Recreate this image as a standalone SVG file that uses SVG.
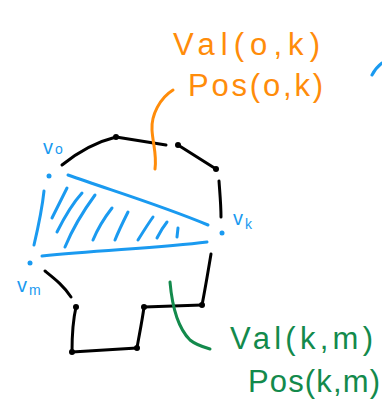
<svg xmlns="http://www.w3.org/2000/svg" width="382" height="406" viewBox="0 0 382 406">
<style>
.k{fill:none;stroke:#000;stroke-width:3;stroke-linecap:round;stroke-linejoin:round}
.b{fill:none;stroke:#1a9af0;stroke-width:3;stroke-linecap:round;stroke-linejoin:round}
.o{fill:none;stroke:#ff8c0a;stroke-width:3;stroke-linecap:round}
.g{fill:none;stroke:#138a4c;stroke-width:3;stroke-linecap:round}
.kd{fill:#000}
.bd{fill:#1a9af0}
.lbl{font-family:"Liberation Sans",Arial,sans-serif;font-size:20px;fill:#1a9af0}
.sub{font-size:14px}
.ot{font-family:"Liberation Sans",Arial,sans-serif;font-size:31px;fill:#ff8c0a}
.gt{font-family:"Liberation Sans",Arial,sans-serif;font-size:31px;fill:#138a4c}
</style>
<rect width="382" height="406" fill="#fff"/>
<g id="polygon">
<path class="k" d="M62,165 C78,152 96,142 116,137"/>
<path class="k" d="M116,137 L166,145"/>
<path class="k" d="M178,145 L216,169"/>
<path class="k" d="M219,181 C220,195 221,205 221,217"/>
<path class="k" d="M211,254 C208,272 205,290 202,305"/>
<path class="k" d="M202,305 L144,307"/>
<path class="k" d="M144,307 C142,322 139,336 137,348"/>
<path class="k" d="M137,348 L72,352"/>
<path class="k" d="M72,352 C72,336 73,320 76,307"/>
<path class="k" d="M71,297 C64,286 55,279 45,271"/>
<circle class="kd" cx="116" cy="137" r="3"/>
<circle class="kd" cx="178" cy="145" r="3"/>
<circle class="kd" cx="216" cy="169" r="3"/>
<circle class="kd" cx="202" cy="305" r="3"/>
<circle class="kd" cx="144" cy="307" r="3"/>
<circle class="kd" cx="137" cy="348" r="3"/>
<circle class="kd" cx="72" cy="352" r="3"/>
<circle class="kd" cx="76" cy="307" r="3"/>
</g>
<g id="triangle">
<path class="b" d="M68,175 C110,190 160,205 208,225"/>
<path class="b" d="M42,256 C100,250 160,248 207,242"/>
<path class="b" d="M44,191 C42,210 38,228 34,245"/>
<path class="b" d="M52,218 L67,188"/>
<path class="b" d="M57,232 C64,218 72,204 82,193"/>
<path class="b" d="M65,247 C72,230 84,210 95,195"/>
<path class="b" d="M93,240 C98,228 105,217 112,208"/>
<path class="b" d="M115,240 C119,230 124,220 128,212"/>
<path class="b" d="M138,240 C143,232 148,224 153,217"/>
<path class="b" d="M157,238 C160,232 163,227 167,222"/>
<path class="b" d="M177,237 L178,228"/>
<circle class="bd" cx="49" cy="176" r="2.5"/>
<circle class="bd" cx="222" cy="233" r="2.5"/>
<circle class="bd" cx="30" cy="263" r="2.5"/>
<path class="b" d="M372,75 C375,69 378,66 382,63"/>
</g>
<g id="v-o"><text class="lbl" x="43" y="154">v<tspan class="sub" dx="2" dy="0">o</tspan></text></g>
<g id="v-k"><text class="lbl" x="233" y="225">v<tspan class="sub" dx="2" dy="4">k</tspan></text></g>
<g id="v-m"><text class="lbl" x="17" y="292">v<tspan class="sub" dx="2" dy="3">m</tspan></text></g>
<g id="label-ok">
<path class="o" d="M173,90 C160,98 151,115 152,130 C153,145 157,155 155,169"/>
<text class="ot" x="173" y="55" textLength="147" lengthAdjust="spacing">Val(o,k)</text>
<text class="ot" x="188" y="96" textLength="135" lengthAdjust="spacing">Pos(o,k)</text>
</g>
<g id="label-km">
<path class="g" d="M170,282 C172,305 178,328 190,340 C196,345 203,347 210,349"/>
<text class="gt" x="230" y="349" textLength="143" lengthAdjust="spacing">Val(k,m)</text>
<text class="gt" x="248" y="392" textLength="132" lengthAdjust="spacing">Pos(k,m)</text>
</g>
</svg>
